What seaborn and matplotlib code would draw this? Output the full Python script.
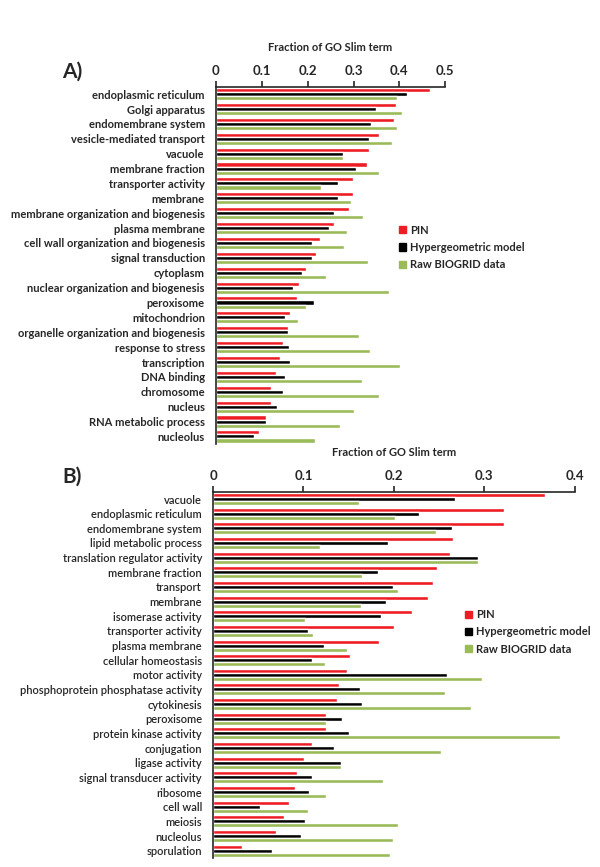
import pandas as pd
import matplotlib
matplotlib.use('Agg')
import matplotlib.pyplot as plt
import seaborn as sns

# Panel A: GO Slim terms
terms_a = ['endoplasmic reticulum', 'Golgi apparatus', 'endomembrane system',
           'vesicle-mediated transport', 'vacuole', 'membrane fraction',
           'transporter activity', 'membrane', 'membrane organization and biogenesis',
           'plasma membrane', 'cell wall organization and biogenesis',
           'signal transduction', 'cytoplasm', 'nuclear organization and biogenesis',
           'peroxisome', 'mitochondrion', 'organelle organization and biogenesis',
           'response to stress', 'transcription', 'DNA binding', 'chromosome',
           'nucleus', 'RNA metabolic process', 'nucleolus']
pin_a = [0.467, 0.393, 0.388, 0.355, 0.333, 0.330, 0.299, 0.299, 0.290, 0.258,
         0.227, 0.219, 0.196, 0.181, 0.177, 0.161, 0.156, 0.146, 0.139, 0.131,
         0.121, 0.121, 0.110, 0.093]
hyper_a = [0.416, 0.348, 0.339, 0.334, 0.277, 0.305, 0.266, 0.266, 0.258, 0.246,
           0.210, 0.210, 0.188, 0.168, 0.214, 0.151, 0.156, 0.159, 0.162, 0.150,
           0.146, 0.132, 0.109, 0.082]
raw_a = [0.394, 0.405, 0.394, 0.385, 0.277, 0.355, 0.229, 0.294, 0.321, 0.285,
         0.280, 0.331, 0.241, 0.377, 0.196, 0.178, 0.312, 0.336, 0.401, 0.318,
         0.355, 0.300, 0.271, 0.216]

# Panel B
terms_b = ['vacuole', 'endoplasmic reticulum', 'endomembrane system',
           'lipid metabolic process', 'translation regulator activity',
           'membrane fraction', 'transport', 'membrane', 'isomerase activity',
           'transporter activity', 'plasma membrane', 'cellular homeostasis',
           'motor activity', 'phosphoprotein phosphatase activity', 'cytokinesis',
           'peroxisome', 'protein kinase activity', 'conjugation', 'ligase activity',
           'signal transducer activity', 'ribosome', 'cell wall', 'meiosis',
           'nucleolus', 'sporulation']
pin_b = [0.367, 0.322, 0.322, 0.265, 0.262, 0.248, 0.243, 0.238, 0.220, 0.200,
         0.184, 0.152, 0.148, 0.139, 0.137, 0.125, 0.125, 0.110, 0.101, 0.093,
         0.091, 0.084, 0.079, 0.070, 0.032]
hyper_b = [0.267, 0.228, 0.264, 0.194, 0.293, 0.182, 0.199, 0.191, 0.186, 0.105,
           0.123, 0.110, 0.259, 0.163, 0.165, 0.143, 0.150, 0.134, 0.142, 0.109,
           0.106, 0.052, 0.102, 0.097, 0.065]
raw_b = [0.161, 0.201, 0.246, 0.118, 0.293, 0.165, 0.205, 0.164, 0.102, 0.111,
         0.148, 0.124, 0.297, 0.256, 0.285, 0.125, 0.384, 0.252, 0.142, 0.188,
         0.125, 0.105, 0.205, 0.199, 0.196]

series = ['PIN', 'Hypergeometric model', 'Raw BIOGRID data']
colors = ['#ee1c24', '#000000', '#9bbb59']


def to_long(terms, pin, hyper, raw):
    frames = []
    for name, vals in zip(series, [pin, hyper, raw]):
        frames.append(pd.DataFrame({'term': terms, 'value': vals, 'source': name}))
    return pd.concat(frames, ignore_index=True)


def draw_panel(ax, df, terms, xmax, xticks, weight, legend_xy):
    sns.barplot(data=df, x='value', y='term', hue='source', order=terms,
                hue_order=series, palette=colors, orient='h', width=0.82,
                saturation=1, ax=ax, legend=False)
    ax.set_xlim(0, xmax)
    ax.set_xticks(xticks)
    ax.set_xticklabels([('%g' % t) for t in xticks], fontweight='bold', fontsize=9.5)
    ax.xaxis.tick_top()
    ax.xaxis.set_label_position('top')
    ax.set_xlabel('Fraction of GO Slim term', fontweight='bold', fontsize=8, labelpad=10)
    ax.set_ylabel('')
    # ticks on category boundaries
    ax.set_yticks(range(len(terms)))
    ax.set_yticklabels(terms, fontweight=weight, fontsize=8)
    ax.tick_params(axis='y', length=0, pad=8)
    ax.set_yticks([i - 0.5 for i in range(len(terms) + 1)], minor=True)
    ax.tick_params(axis='y', which='minor', length=4, width=1.2, direction='out')
    ax.tick_params(axis='x', length=4, width=1.2, direction='out', pad=3)
    ax.set_ylim(len(terms) - 0.5, -0.5)
    for s in ['right', 'bottom']:
        ax.spines[s].set_visible(False)
    for s in ['top', 'left']:
        ax.spines[s].set_linewidth(1.2)
    handles = [plt.Rectangle((0, 0), 1, 1, color=c) for c in colors]
    ax.legend(handles, series, loc='center left', bbox_to_anchor=legend_xy,
              frameon=False, prop={'weight': 'bold', 'size': 8},
              handlelength=0.6, handleheight=0.6, handletextpad=0.4,
              labelspacing=0.55, borderaxespad=0)


sns.set_theme(style='white')
plt.rcParams['font.family'] = ['Lato', 'DejaVu Sans']

fig = plt.figure(figsize=(6.0, 8.67), dpi=100)
ax_a = fig.add_axes([0.36, 0.488, 0.382, 0.412])
ax_b = fig.add_axes([0.355, 0.0104, 0.603, 0.4225])

df_a = to_long(terms_a, pin_a, hyper_a, raw_a)
df_b = to_long(terms_b, pin_b, hyper_b, raw_b)

draw_panel(ax_a, df_a, terms_a, 0.5, [0, 0.1, 0.2, 0.3, 0.4, 0.5], 'bold',
           (0.78, 0.55))
draw_panel(ax_b, df_b, terms_b, 0.4, [0, 0.1, 0.2, 0.3, 0.4], 'semibold',
           (0.685, 0.617))

fig.text(62 / 600, 1 - 72 / 867, 'A)', fontsize=15, fontweight='bold',
         va='center', ha='left')
fig.text(62 / 600, 1 - 477 / 867, 'B)', fontsize=15, fontweight='bold',
         va='center', ha='left')

fig.savefig('out.png', dpi=100)
